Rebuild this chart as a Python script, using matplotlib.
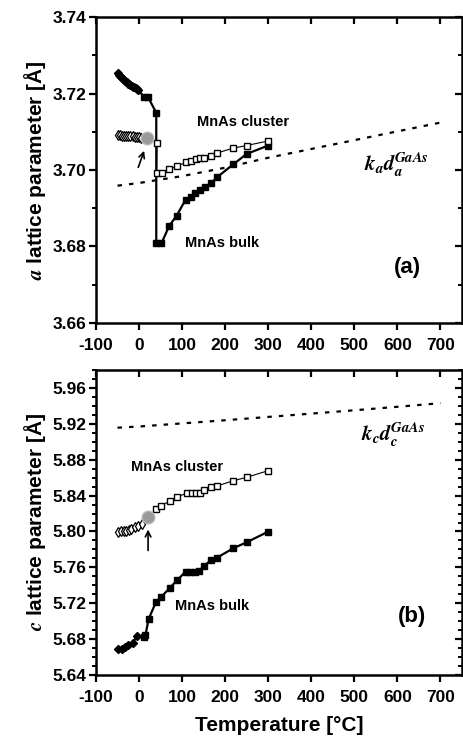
import numpy as np
import matplotlib
matplotlib.use("Agg")
import matplotlib.pyplot as plt
from matplotlib.ticker import MultipleLocator
from matplotlib.lines import TICKDOWN, TICKLEFT

plt.rcParams['font.family'] = ['Liberation Sans', 'DejaVu Sans']
plt.rcParams['font.weight'] = 'bold'
plt.rcParams['mathtext.fontset'] = 'stix'
plt.rcParams['axes.unicode_minus'] = False

# ---- (a) lattice parameter ----
a_bulk_T_lo = [-50, -47, -44, -41, -38, -35, -32, -29, -26, -23, -20, -17, -14, -11, -8, -5, -2]
a_bulk_lo = [3.7253, 3.7249, 3.7245, 3.7242, 3.7239, 3.7235, 3.7232, 3.7229, 3.7226, 3.7224,
             3.7222, 3.7220, 3.7218, 3.7216, 3.7214, 3.7212, 3.7210]
a_bulk_T_hi = [12, 20, 40, 40, 52, 70, 87, 108, 120, 130, 142, 153, 167, 181, 219, 250, 300]
a_bulk_hi = [3.7190, 3.7192, 3.7150, 3.6808, 3.6808, 3.6854, 3.6880, 3.6922, 3.6930, 3.6941,
             3.6948, 3.6955, 3.6965, 3.6981, 3.7015, 3.7042, 3.7064]
a_clu_T_lo = [-50, -45, -40, -35, -30, -25, -20, -15, -10, -5, 0, 5]
a_clu_lo = [3.7091, 3.7091, 3.7090, 3.7090, 3.7089, 3.7089, 3.7088, 3.7088, 3.7087, 3.7086, 3.7085, 3.7084]
a_clu_T_hi = [42, 41, 53, 70, 88, 109, 121, 132, 142, 152, 166, 180, 218, 250, 300]
a_clu_hi = [3.7070, 3.6991, 3.6991, 3.7002, 3.7010, 3.7020, 3.7024, 3.7030, 3.7031, 3.7032,
            3.7037, 3.7044, 3.7057, 3.7064, 3.7076]
a_tc = (19, 3.7083)
a_ref_T = [-50, 0, 100, 200, 300, 400, 500, 600, 700]
a_ref = [3.6959, 3.6966, 3.6984, 3.7006, 3.7032, 3.7055, 3.7078, 3.7101, 3.7124]

# ---- (b) c lattice parameter ----
c_bulk_T_lo = [-48, -40, -33, -25, -15, -5]
c_bulk_lo = [5.6687, 5.6687, 5.6710, 5.6735, 5.6752, 5.6835]
c_bulk_T_hi = [11, 15, 22, 39, 52, 72, 89, 108, 118, 130, 140, 151, 167, 181, 219, 250, 300]
c_bulk_hi = [5.6828, 5.6846, 5.7021, 5.7210, 5.7273, 5.7374, 5.7459, 5.7552, 5.7552, 5.7552,
             5.7563, 5.7615, 5.7682, 5.7708, 5.7813, 5.7880, 5.7998]
c_clu_T_lo = [-48, -42, -36, -30, -24, -18, -10, -2, 6]
c_clu_lo = [5.7995, 5.8000, 5.8005, 5.8010, 5.8018, 5.8030, 5.8045, 5.8065, 5.8085]
c_clu_T_hi = [40, 51, 71, 89, 111, 122, 133, 142, 152, 167, 181, 219, 250, 300]
c_clu_hi = [5.8251, 5.8288, 5.8337, 5.8388, 5.8426, 5.8426, 5.8426, 5.8433, 5.8463, 5.8500,
            5.8507, 5.8566, 5.8604, 5.8678]
c_tc = (21, 5.8165)
c_ref_T = [-50, 0, 100, 200, 300, 400, 500, 600, 700]
c_ref = [5.9157, 5.9170, 5.9205, 5.9240, 5.9277, 5.9314, 5.9351, 5.9390, 5.9430]

fig = plt.figure(figsize=(4.63, 7.43), dpi=100)
ax1 = fig.add_axes([0.2073, 0.5653, 0.7905, 0.4118])
ax2 = fig.add_axes([0.2073, 0.0915, 0.7905, 0.4105])


def draw(ax, bT_lo, b_lo, bT_hi, b_hi, cT_lo, c_lo, cT_hi, c_hi, tc, rT, r):
    ax.plot(bT_lo + bT_hi, b_lo + b_hi, '-', color='black', lw=1.6, zorder=3)
    ax.plot(bT_lo, b_lo, 'D', color='black', ms=4.5, zorder=4)
    ax.plot(bT_hi, b_hi, 's', color='black', ms=5, zorder=4)
    ax.plot(cT_lo, c_lo, 'd-', color='black', mfc='white', ms=5, lw=0.8, mew=0.9, zorder=4)
    ax.plot(cT_hi, c_hi, 's-', color='black', mfc='white', ms=5, lw=0.8, mew=1.0, zorder=4)
    ax.plot([tc[0]], [tc[1]], 'o', color='#9a9a9a', ms=9, mec='#b5b5b5', zorder=5)
    ax.plot(rT, r, color='black', lw=1.6, linestyle=(0, (2, 3.2)), zorder=2)
    ax.set_xlim(-100, 750)
    ax.set_xticks(np.arange(-100, 701, 100))
    for s in ax.spines.values():
        s.set_linewidth(1.8)
    ax.tick_params(axis='both', which='major', labelsize=12.5, width=1.6, length=5)
    ax.tick_params(axis='both', which='minor', width=1.4, length=3)
    ax.tick_params(axis='x', which='both', direction='out', top=True, pad=6)
    ax.tick_params(axis='y', which='both', direction='out', right=True, pad=2)


def finish(ax):
    # ticks on top and right point inward
    for t in ax.xaxis.get_major_ticks() + ax.xaxis.get_minor_ticks():
        t.tick2line.set_marker(TICKDOWN)
    for t in ax.yaxis.get_major_ticks() + ax.yaxis.get_minor_ticks():
        t.tick2line.set_marker(TICKLEFT)
    for lab in ax.get_xticklabels() + ax.get_yticklabels():
        lab.set_fontweight('bold')


draw(ax1, a_bulk_T_lo, a_bulk_lo, a_bulk_T_hi, a_bulk_hi, a_clu_T_lo, a_clu_lo,
     a_clu_T_hi, a_clu_hi, a_tc, a_ref_T, a_ref)
ax1.set_ylim(3.66, 3.74)
ax1.yaxis.set_major_locator(MultipleLocator(0.02))
ax1.yaxis.set_minor_locator(MultipleLocator(0.01))
ax1.yaxis.set_major_formatter(plt.FormatStrFormatter('%.2f'))
ax1.set_ylabel(r'$\mathbfit{a}$ lattice parameter [Å]', fontsize=15, fontweight='bold', labelpad=3)
ax1.text(242, 3.7126, 'MnAs cluster', fontsize=10.5, fontweight='bold', ha='center', va='center')
ax1.text(193, 3.6809, 'MnAs bulk', fontsize=10.5, fontweight='bold', ha='center', va='center')
ax1.text(623, 3.6744, '(a)', fontsize=16, fontweight='bold', ha='center', va='center')
ax1.text(598, 3.7013, r'$\mathbfit{k_a d_a^{GaAs}}$', fontsize=15, ha='center', va='center')
ax1.annotate('', xy=(14, 3.7057), xytext=(-4, 3.7000),
             arrowprops=dict(arrowstyle='->', color='black', lw=1.2), zorder=6)

draw(ax2, c_bulk_T_lo, c_bulk_lo, c_bulk_T_hi, c_bulk_hi, c_clu_T_lo, c_clu_lo,
     c_clu_T_hi, c_clu_hi, c_tc, c_ref_T, c_ref)
ax2.set_ylim(5.64, 5.98)
ax2.yaxis.set_major_locator(MultipleLocator(0.04))
ax2.yaxis.set_minor_locator(MultipleLocator(0.01))
ax2.yaxis.set_major_formatter(plt.FormatStrFormatter('%.2f'))
ax2.set_ylabel(r'$\mathbfit{c}$ lattice parameter [Å]', fontsize=15, fontweight='bold', labelpad=3)
ax2.set_xlabel('Temperature [°C]', fontsize=15, fontweight='bold', labelpad=8)
ax2.text(88, 5.8723, 'MnAs cluster', fontsize=10.5, fontweight='bold', ha='center', va='center')
ax2.text(170, 5.7170, 'MnAs bulk', fontsize=10.5, fontweight='bold', ha='center', va='center')
ax2.text(635, 5.7050, '(b)', fontsize=16, fontweight='bold', ha='center', va='center')
ax2.text(590, 5.9076, r'$\mathbfit{k_c d_c^{GaAs}}$', fontsize=15, ha='center', va='center')
ax2.annotate('', xy=(21, 5.8053), xytext=(21, 5.7757),
             arrowprops=dict(arrowstyle='->', color='black', lw=1.2), zorder=6)

finish(ax1)
finish(ax2)

fig.savefig('out.png', dpi=100)
